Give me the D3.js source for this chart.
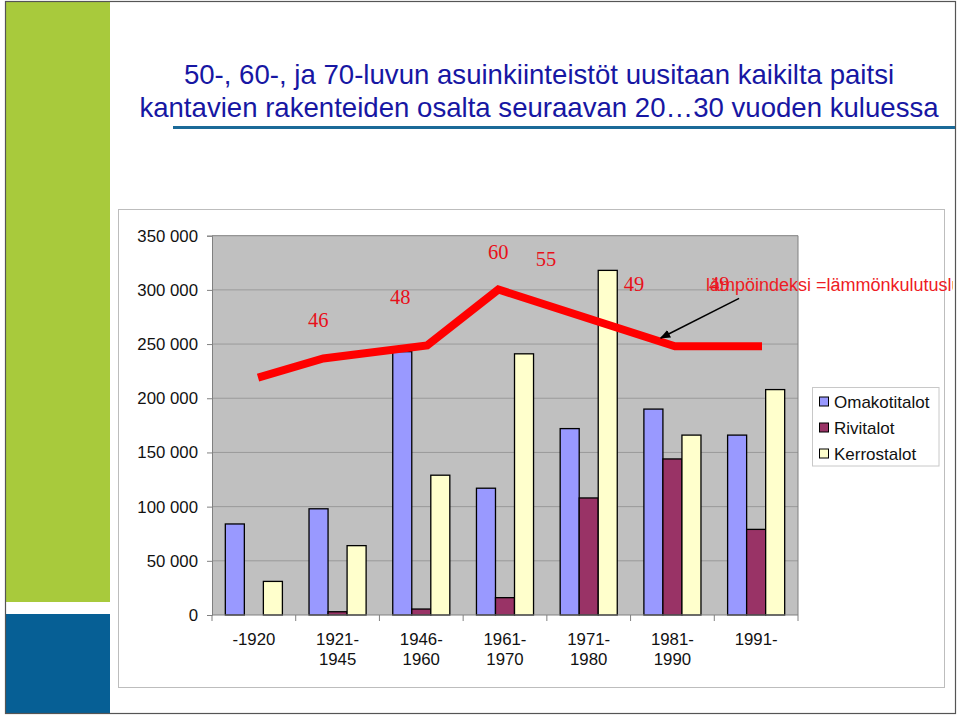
<!DOCTYPE html>
<html><head><meta charset="utf-8">
<script src="https://cdn.jsdelivr.net/npm/d3@7"></script>
<style>html,body{margin:0;padding:0;background:#fff;}svg{display:block;}</style>
</head><body>
<svg id="c" width="960" height="716"></svg>
<script>
// ---- data ----
const categoriesLine1 = ["-1920", "1921-", "1946-", "1961-", "1971-", "1981-", "1991-"];
const categoriesLine2 = ["", "1945", "1960", "1970", "1980", "1990", ""];
const seriesNames = ["Omakotitalot", "Rivitalot", "Kerrostalot"];
const omakotitalot = [84000, 98000, 243000, 117000, 172000, 190000, 166000];
const rivitalot    = [0, 3000, 5500, 16000, 108000, 144000, 79000];
const kerrostalot  = [31000, 64000, 129000, 241000, 318000, 166000, 208000];
const yTicks = [0, 50000, 100000, 150000, 200000, 250000, 300000, 350000];
// lämpöindeksi line (category position, value on the axis)
const lineCatPos = [0.05, 0.83, 2.07, 2.92, 5.03, 6.07];
const lineValues = [219000, 236700, 248700, 300300, 248000, 248000];
// lämpöindeksi labels
const indexLabels   = [46, 48, 60, 55, 49, 49];
const labelCatPos   = [0.77, 1.75, 2.92, 3.49, 4.54, 5.56];
const labelValues   = [266200, 287400, 328800, 321700, 299300, 299300];
const titleLines = ["50-, 60-, ja 70-luvun asuinkiinteistöt uusitaan kaikilta paitsi",
                    "kantavien rakenteiden osalta seuraavan 20\u202630 vuoden kuluessa"];
const annotationText = "lämpöindeksi =lämmönkulutusluku";
const colors = ["#9999ff", "#993366", "#ffffcc"];

const svg = d3.select("#c");
const sans = "'Liberation Sans', Arial, sans-serif";
const serif = "'Liberation Serif', 'Times New Roman', serif";

// slide decoration
svg.append("rect").attr("x",6).attr("y",2).attr("width",104).attr("height",600).attr("fill","#a8ca3c");
svg.append("rect").attr("x",6).attr("y",614).attr("width",104).attr("height",99).attr("fill","#065f95");
svg.append("rect").attr("x",5.5).attr("y",1.5).attr("width",950).attr("height",712)
  .attr("fill","none").attr("stroke","#555").attr("stroke-width",1.2);

// title
const title = svg.append("text").attr("font-family",sans).attr("font-size",27.6).attr("fill","#1717a3")
  .attr("text-anchor","middle");
title.selectAll("tspan").data(titleLines).join("tspan")
  .attr("x",539).attr("y",(d,i)=>84+i*33).text(d=>d);
svg.append("line").attr("x1",173).attr("x2",955).attr("y1",127.5).attr("y2",127.5)
  .attr("stroke","#1b6a98").attr("stroke-width",3);

// chart frame
svg.append("rect").attr("x",118.5).attr("y",209.5).attr("width",826).attr("height",478)
  .attr("fill","#fff").attr("stroke","#bdbdbd").attr("stroke-width",1);

const plot = {l:212, r:798, t:235.7, b:615};
const x0 = d3.scaleBand().domain(d3.range(categoriesLine1.length)).range([plot.l, plot.r]).padding(0);
const x1 = d3.scaleBand().domain(seriesNames).range([0, x0.bandwidth()]).paddingInner(0).paddingOuter(0.7);
const xPos = d3.scaleLinear().domain([-0.5, categoriesLine1.length - 0.5]).range([plot.l, plot.r]);
const y = d3.scaleLinear().domain([0, 350000]).range([plot.b, plot.t]);

// plot background
svg.append("rect").attr("x",plot.l).attr("y",plot.t).attr("width",plot.r-plot.l).attr("height",plot.b-plot.t)
  .attr("fill","#c0c0c0");

// gridlines
svg.append("g").selectAll("line").data(yTicks.filter(d=>d>0)).join("line")
  .attr("x1",plot.l).attr("x2",plot.r).attr("y1",d=>y(d)).attr("y2",d=>y(d))
  .attr("stroke",(d)=>d===350000?"#808080":"#9a9a9a").attr("stroke-width",1);
// right border
svg.append("line").attr("x1",plot.r).attr("x2",plot.r).attr("y1",plot.t).attr("y2",plot.b)
  .attr("stroke","#808080");

// y axis
const fmt = d => d3.format(",")(d).replace(/,/g, " ");
const yAxis = svg.append("g").attr("transform",`translate(${plot.l},0)`)
  .call(d3.axisLeft(y).tickValues(yTicks).tickFormat(fmt).tickSize(5).tickPadding(9));
yAxis.select(".domain").attr("stroke","#808080");
yAxis.selectAll(".tick line").attr("stroke","#808080");
yAxis.selectAll("text").attr("font-family",sans).attr("font-size",16.8).attr("fill","#111");

// bars
const data = categoriesLine1.map((c,i)=>({i, vals:[omakotitalot[i], rivitalot[i], kerrostalot[i]]}));
const groups = svg.append("g").selectAll("g").data(data).join("g")
  .attr("transform",d=>`translate(${x0(d.i)},0)`);
groups.selectAll("rect").data(d=>d.vals.map((v,k)=>({k,v}))).join("rect")
  .filter(d=>d.v>0)
  .attr("x",d=>x1(seriesNames[d.k])).attr("width",x1.bandwidth())
  .attr("y",d=>y(d.v)).attr("height",d=>y(0)-y(d.v))
  .attr("fill",d=>colors[d.k]).attr("stroke","#000").attr("stroke-width",1.3);

// x axis
const xAxisG = svg.append("g").attr("transform",`translate(0,${plot.b})`);
xAxisG.append("line").attr("x1",plot.l).attr("x2",plot.r).attr("stroke","#808080");
xAxisG.selectAll("line.tk").data(d3.range(categoriesLine1.length+1)).join("line").attr("class","tk")
  .attr("x1",d=>xPos(d-0.5)).attr("x2",d=>xPos(d-0.5)).attr("y1",0).attr("y2",6).attr("stroke","#808080");
const xl = xAxisG.selectAll("text").data(d3.range(categoriesLine1.length)).join("text")
  .attr("font-family",sans).attr("font-size",16.8).attr("fill","#111").attr("text-anchor","middle");
xl.append("tspan").attr("x",d=>x0(d)+x0.bandwidth()/2).attr("y",30).text(d=>categoriesLine1[d]);
xl.append("tspan").attr("x",d=>x0(d)+x0.bandwidth()/2).attr("y",50).text(d=>categoriesLine2[d]);

// red index line
const linePts = lineCatPos.map((p,i)=>[xPos(p), y(lineValues[i])]);
svg.append("path").attr("d",d3.line()(linePts)).attr("fill","none")
  .attr("stroke","#ff0000").attr("stroke-width",8).attr("stroke-linejoin","miter");

// index labels
svg.append("g").selectAll("text").data(indexLabels).join("text")
  .attr("x",(d,i)=>xPos(labelCatPos[i])).attr("y",(d,i)=>y(labelValues[i]))
  .attr("text-anchor","middle").attr("font-family",serif).attr("font-size",20.5).attr("fill","#e8101a")
  .text(d=>d);

// annotation
const defs = svg.append("defs");
defs.append("clipPath").attr("id","clipA").append("rect").attr("x",0).attr("y",0).attr("width",953).attr("height",716);
defs.append("marker").attr("id","arr").attr("viewBox","0 0 10 10").attr("refX",9).attr("refY",5)
  .attr("markerWidth",7).attr("markerHeight",7).attr("orient","auto")
  .append("path").attr("d","M0,1 L10,5 L0,9 Z").attr("fill","#000");
svg.append("text").attr("clip-path","url(#clipA)")
  .attr("x",xPos(5.40)).attr("y",y(298800)).attr("font-family",sans).attr("font-size",18)
  .attr("fill","#ee1c24").text(annotationText);
svg.append("line").attr("x1",xPos(5.796)).attr("y1",y(292200)).attr("x2",xPos(4.86)).attr("y2",y(255600))
  .attr("stroke","#000").attr("stroke-width",1.5).attr("marker-end","url(#arr)");

// legend
const lg = svg.append("g").attr("transform","translate(812.5,387.5)");
lg.append("rect").attr("width",126.5).attr("height",78.5).attr("fill","#fff").attr("stroke","#c8c8c8");
const li = lg.selectAll("g").data(seriesNames).join("g").attr("transform",(d,i)=>`translate(0,${14+i*26})`);
li.append("rect").attr("x",7).attr("y",-4.5).attr("width",9).attr("height",9)
  .attr("fill",(d,i)=>colors[i]).attr("stroke","#000").attr("stroke-width",1);
li.append("text").attr("x",21.5).attr("y",6.5).attr("font-family",sans).attr("font-size",17)
  .attr("fill","#111").text(d=>d);
</script>
</body></html>
